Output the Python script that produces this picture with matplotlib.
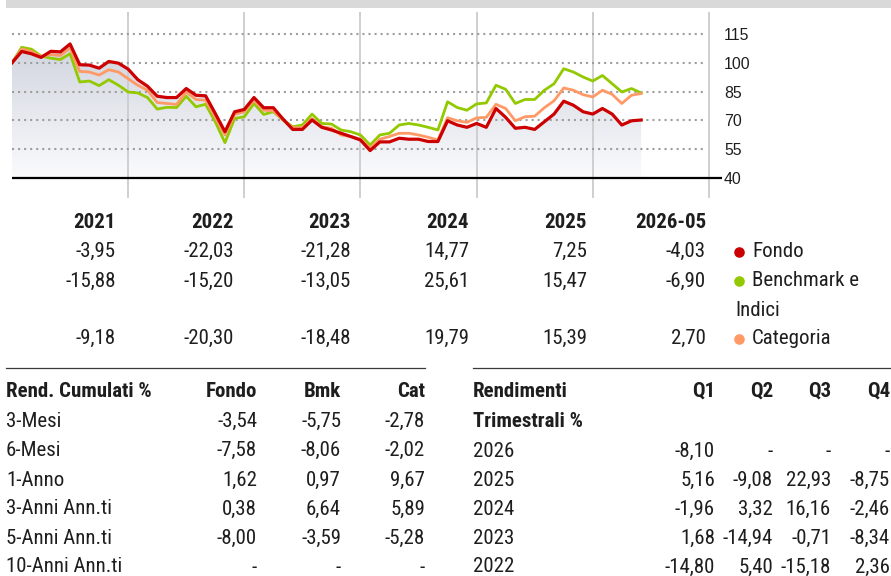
import numpy as np
import matplotlib
matplotlib.use("Agg")
import matplotlib.pyplot as plt
from matplotlib import font_manager as fm
from matplotlib.patches import Rectangle
from matplotlib.lines import Line2D

# ---- data -------------------------------------------------------------
# Growth of 100 invested, monthly, from end of 2020 to May 2026
fondo = [100, 105.9, 104.7, 102.8, 106, 105.7, 109.8, 99, 98.8, 97.2, 100.7, 99.8,
         96.7, 91.2, 87.8, 82.6, 81.9, 81.9, 86.6, 83.1, 82.8, 73.6, 64.1, 74.5,
         75.7, 81.9, 76.6, 76.6, 70.7, 65.3, 65.3, 70.2, 66.4, 65, 63.3, 61.6,
         59.8, 54.3, 58.8, 58.8, 60.7, 60.2, 60.2, 59, 59, 69.8, 67.6, 66.4,
         68.4, 66.4, 76.2, 71.6, 65.9, 66.4, 65.3, 69.3, 73.3, 80, 77.9, 74.5,
         73.3, 76.2, 73.3, 67.6, 69.8, 70.2]
benchmark = [100, 108.1, 107.1, 103.6, 102.4, 101.7, 104.7, 90, 90.5, 88.1, 91.2, 88.3,
             84.8, 84.3, 81.9, 75.9, 76.8, 76.7, 82.6, 77.1, 78.4, 69.3, 58.4, 71,
             71.9, 78.8, 73.1, 74.5, 70.2, 66.7, 67.6, 73.3, 68.4, 68.1, 65, 64.1,
             62.4, 57.2, 62.4, 63.3, 67.6, 68.4, 67.6, 66.4, 65, 79.7, 76.7, 75.3,
             78.6, 79.1, 88.3, 86.2, 78.8, 80.9, 80.9, 85.7, 89.1, 96.9, 95.2, 92.6,
             90.5, 93.4, 89.1, 84.8, 86.6, 84.3]
categoria = [100, 107.2, 105.9, 103.3, 104.3, 103.8, 107.8, 95.5, 95.2, 93.6, 96.4, 95.2,
             91.7, 88.3, 85.7, 79.3, 78.8, 78.3, 84.8, 80.9, 80.5, 71.6, 62.4, 73.1,
             74.5, 80.5, 75.3, 75, 70.2, 66.2, 66.2, 71, 66.7, 65.9, 62.4, 61.6,
             60.2, 55.5, 60.2, 61.6, 63.3, 63.3, 62.4, 61.2, 59.8, 71.4, 69.8, 69,
             71.3, 71.6, 78.4, 76.2, 69.8, 71.9, 72.2, 76.6, 80.2, 86.9, 85.7, 83.4,
             82.2, 85.7, 83.6, 78.8, 83.1, 84]
year_ends = [12, 24, 36, 48, 60, 72]
y_ticks = [40, 55, 70, 85, 100, 115]

years = ["2021", "2022", "2023", "2024", "2025", "2026-05"]
yr_fondo = [-3.95, -22.03, -21.28, 14.77, 7.25, -4.03]
yr_bmk = [-15.88, -15.20, -13.05, 25.61, 15.47, -6.90]
yr_cat = [-9.18, -20.30, -18.48, 19.79, 15.39, 2.70]
legend_names = ["Fondo", "Benchmark e", "Indici", "Categoria"]

cum_labels = ["3-Mesi", "6-Mesi", "1-Anno", "3-Anni Ann.ti", "5-Anni Ann.ti", "10-Anni Ann.ti"]
cum_fondo = [-3.54, -7.58, 1.62, 0.38, -8.00, None]
cum_bmk = [-5.75, -8.06, 0.97, 6.64, -3.59, None]
cum_cat = [-2.78, -2.02, 9.67, 5.89, -5.28, None]

q_years = ["2026", "2025", "2024", "2023", "2022"]
q1 = [-8.10, 5.16, -1.96, 1.68, -14.80]
q2 = [None, -9.08, 3.32, -14.94, 5.40]
q3 = [None, 22.93, 16.16, -0.71, -15.18]
q4 = [None, -8.75, -2.46, -8.34, 2.36]

# ---- style ------------------------------------------------------------
C_FONDO, C_BMK, C_CAT = "#cc0000", "#92c900", "#ff9966"
TXT = "#1e1e1e"

names = {f.name for f in fm.fontManager.ttflist}
NARROW = None
for cand in ["Liberation Sans Narrow", "Roboto Condensed", "Open Sans Condensed",
             "Arial Narrow"]:
    if cand in names:
        NARROW = cand
        break
if NARROW is not None:
    TFONT, TSIZE = NARROW, 15.0
else:
    TFONT, TSIZE = "Liberation Sans", 12.3
AFONT = "Liberation Sans" if "Liberation Sans" in names else "DejaVu Sans"

W, H = 891, 576
fig = plt.figure(figsize=(W / 100, H / 100), dpi=100)


def fx(x):
    return x / W


def fy(y):
    return 1 - y / H


def fmt(v):
    return "-" if v is None else f"{v:.2f}".replace(".", ",")


def put(x, y, s, ha="right", bold=False, color=TXT):
    fig.text(fx(x), fy(y), s, ha=ha, va="baseline", fontsize=TSIZE,
             family=TFONT, weight="bold" if bold else "normal", color=color)


# top band
fig.add_artist(Rectangle((fx(6), fy(7.5)), 1 - fx(6), 7.5 / H,
                         transform=fig.transFigure, color="#d9d9d9", lw=0))

# ---- chart ------------------------------------------------------------
ax = fig.add_axes([fx(12), fy(198), (718.6 - 12) / W, 186 / H])
ax.patch.set_alpha(0)
for sp in ax.spines.values():
    sp.set_visible(False)

x = np.arange(len(fondo))

# shaded area under the fund line
poly = ax.fill_between(x, fondo, 40, color="none", lw=0)
top = np.array([207, 211, 222]) / 255
bot = np.array([251, 251, 253]) / 255
t = np.linspace(0, 1, 256)[:, None]
grad = (top * (1 - t) + bot * t)[:, None, :]
img = ax.imshow(grad, extent=[0, x[-1], 40, 112], origin="upper",
                aspect="auto", zorder=1, interpolation="bilinear")
img.set_clip_path(poly.get_paths()[0], transform=ax.transData)

ylo, yhi = 29.58, 126.46
ax.vlines(year_ends, ylo, yhi, colors="#cccccc", lw=1.3, zorder=2)
ax.hlines(y_ticks[1:], 0, 71.4, colors="#9e9e9e", lw=1.5,
          linestyles=[(0, (1, 1.9))], zorder=2)
ax.plot([0, 73.3], [40, 40], color="black", lw=1.6, zorder=6,
        clip_on=False, solid_capstyle="butt")

ax.plot(x, benchmark, color=C_BMK, lw=2.0, zorder=3)
ax.plot(x, categoria, color=C_CAT, lw=2.0, zorder=4)
ax.plot(x, fondo, color=C_FONDO, lw=2.3, zorder=5)

ax.set_xlim(0, 73)
ax.set_ylim(ylo, yhi)
ax.set_xticks([])
ax.yaxis.tick_right()
ax.set_yticks(y_ticks)
ax.set_yticklabels([str(v) for v in y_ticks])
ax.tick_params(axis="y", length=0, pad=3.9, labelsize=11.4, labelcolor=TXT)
for lab in ax.get_yticklabels():
    lab.set_family(AFONT)

# ---- calendar-year returns --------------------------------------------
col_right = [116, 234, 351, 469, 587, 706]
for xr, yr, a, b, c in zip(col_right, years, yr_fondo, yr_bmk, yr_cat):
    put(xr, 228, yr, bold=True)
    put(xr, 257, fmt(a))
    put(xr, 286.5, fmt(b))
    put(xr, 344, fmt(c))

leg_rows = [(257, C_FONDO, legend_names[0]), (286.5, C_BMK, legend_names[1]),
            (344, C_CAT, legend_names[3])]
for yb, col, name in leg_rows:
    fig.add_artist(Line2D([fx(739)], [fy(yb - 5.5)], marker="o", ms=6.6,
                          color=col, lw=0, transform=fig.transFigure))
    put(752, yb, name, ha="left")
put(735, 315.5, legend_names[2], ha="left")

# ---- cumulative returns table -----------------------------------------
fig.add_artist(Line2D([fx(6), fx(425)], [fy(367.5)] * 2, color="#3a3a3a",
                      lw=0.9, transform=fig.transFigure))
put(6, 397, "Rend. Cumulati %", ha="left", bold=True)
cum_cols = [257, 341, 425]
for xr, h in zip(cum_cols, ["Fondo", "Bmk", "Cat"]):
    put(xr, 397, h, bold=True)
row_y = [427, 456, 485.5, 514.5, 543.5, 572.5]
for yb, lab, a, b, c in zip(row_y, cum_labels, cum_fondo, cum_bmk, cum_cat):
    put(6, yb, lab, ha="left")
    for xr, v in zip(cum_cols, [a, b, c]):
        put(xr, yb, fmt(v))

# ---- quarterly returns table ------------------------------------------
fig.add_artist(Line2D([fx(473), fx(891)], [fy(367.5)] * 2, color="#3a3a3a",
                      lw=0.9, transform=fig.transFigure))
put(473, 397, "Rendimenti", ha="left", bold=True)
put(473, 427, "Trimestrali %", ha="left", bold=True)
q_cols = [715, 773, 831, 890]
for xr, h in zip(q_cols, ["Q1", "Q2", "Q3", "Q4"]):
    put(xr, 397, h, bold=True)
q_row_y = [457, 486, 515, 544, 572.5]
for i, (yb, yr) in enumerate(zip(q_row_y, q_years)):
    put(473, yb, yr, ha="left")
    for xr, series in zip(q_cols, [q1, q2, q3, q4]):
        put(xr, yb, fmt(series[i]))

fig.savefig("out.png", dpi=100)
